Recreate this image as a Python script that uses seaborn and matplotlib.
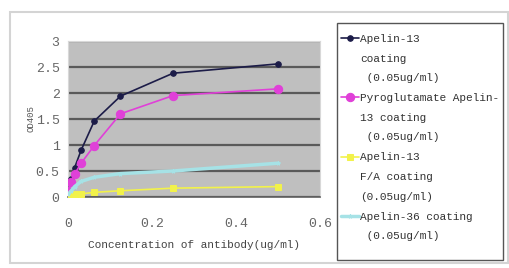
import numpy as np
import pandas as pd
import seaborn as sns
import matplotlib.pyplot as plt
from matplotlib.patches import Rectangle
from matplotlib.legend_handler import HandlerLine2D

# antibody concentration (ug/ml)
conc = [0, 0.0078, 0.0156, 0.03125, 0.0625, 0.125, 0.25, 0.5]

apelin13 = [0.10, 0.35, 0.56, 0.90, 1.46, 1.94, 2.38, 2.56]
pyro_apelin13 = [0.12, 0.28, 0.44, 0.65, 0.99, 1.60, 1.95, 2.08]
apelin13_fa = [0.03, 0.04, 0.05, 0.06, 0.09, 0.12, 0.17, 0.20]
apelin36 = [0.05, 0.12, 0.20, 0.30, 0.38, 0.45, 0.50, 0.65]

labels = ["Apelin-13\ncoating\n (0.05ug/ml)",
          "Pyroglutamate Apelin-\n13 coating\n (0.05ug/ml)",
          "Apelin-13\nF/A coating\n(0.05ug/ml)",
          "Apelin-36 coating\n (0.05ug/ml)"]
colors = ["#1c1c48", "#e040d8", "#f2f24a", "#a6e2e6"]
markers = ["o", "o", "s", "*"]
msizes = [4, 6, 4, 3]
lwidths = [1.2, 1.2, 1.2, 2.5]

df = pd.DataFrame({
    "conc": conc * 4,
    "od": apelin13 + pyro_apelin13 + apelin13_fa + apelin36,
    "series": sum([[lab] * len(conc) for lab in labels], []),
})

LINE_STEP = 14.8  # points between text lines in the legend


class TopHandler(HandlerLine2D):
    # put the legend line next to the first text line
    def __init__(self, nlines, **kw):
        super().__init__(**kw)
        self.off = (nlines - 1) / 2 * LINE_STEP

    def create_artists(self, legend, orig_handle, xdescent, ydescent,
                       width, height, fontsize, trans):
        return super().create_artists(legend, orig_handle, xdescent,
                                      ydescent - 2 * self.off, width, height,
                                      fontsize, trans)


sns.set_style("white")
plt.rcParams["font.family"] = ["Liberation Mono", "DejaVu Sans"]

fig = plt.figure(figsize=(5.1, 2.68), dpi=100)
ax = fig.add_axes([68 / 510, 1 - 197 / 268, 252 / 510, 156 / 268])
ax.set_facecolor("#bfbfbf")

for lab, c, m, ms, lw in zip(labels, colors, markers, msizes, lwidths):
    sns.lineplot(data=df[df["series"] == lab], x="conc", y="od", ax=ax,
                 color=c, marker=m, markersize=ms, markeredgecolor=c,
                 linewidth=lw, label=lab, zorder=3)

ax.set_xlim(0, 0.6)
ax.set_ylim(0, 3)
ax.set_xticks([0, 0.2, 0.4, 0.6])
ax.set_xticklabels(["0", "0.2", "0.4", "0.6"])
ax.set_yticks([0, 0.5, 1, 1.5, 2, 2.5, 3])
ax.set_yticklabels(["0", "0.5", "1", "1.5", "2", "2.5", "3"])
ax.tick_params(axis="x", direction="in", length=3, color="#555555",
               labelsize=9.5, labelcolor="#666666", pad=15)
ax.tick_params(axis="y", length=0, labelsize=9.5, labelcolor="#666666", pad=6)
ax.yaxis.grid(True, color="#5a5a5a", linewidth=1.6)
ax.set_axisbelow(True)
for s in ["top", "right", "left"]:
    ax.spines[s].set_color("#d8d8d8")
ax.spines["bottom"].set_color("#606060")
ax.spines["bottom"].set_linewidth(1.2)

ax.set_xlabel("Concentration of antibody(ug/ml)", fontsize=8, color="#444444", labelpad=7)
ax.set_ylabel("OD405", fontsize=6.5, color="#555555", labelpad=0)

ax.get_legend().remove()
h, l = ax.get_legend_handles_labels()
hmap = {hd: TopHandler(lb.count("\n") + 1) for hd, lb in zip(h, l)}
leg = fig.legend(h, l, loc="upper left", bbox_to_anchor=(341 / 510, 1 - 34 / 268),
                 frameon=False, fontsize=8, handlelength=1.6,
                 handletextpad=0.15, borderpad=0, labelspacing=0.9,
                 borderaxespad=0, handler_map=hmap)
for t in leg.get_texts():
    t.set_linespacing(2.2)
    t.set_color("#333333")

# legend box and outer chart frame
fig.patches.append(Rectangle((337 / 510, 1 - 260 / 268), 166 / 510, 237 / 268,
                             transform=fig.transFigure, fill=False,
                             edgecolor="#555555", linewidth=1.0, zorder=1))
fig.patches.append(Rectangle((10 / 510, 1 - 263 / 268), 498 / 510, 251 / 268,
                             transform=fig.transFigure, fill=False,
                             edgecolor="#d4d4d4", linewidth=1.5, zorder=0))

fig.savefig("out.png", dpi=100)
